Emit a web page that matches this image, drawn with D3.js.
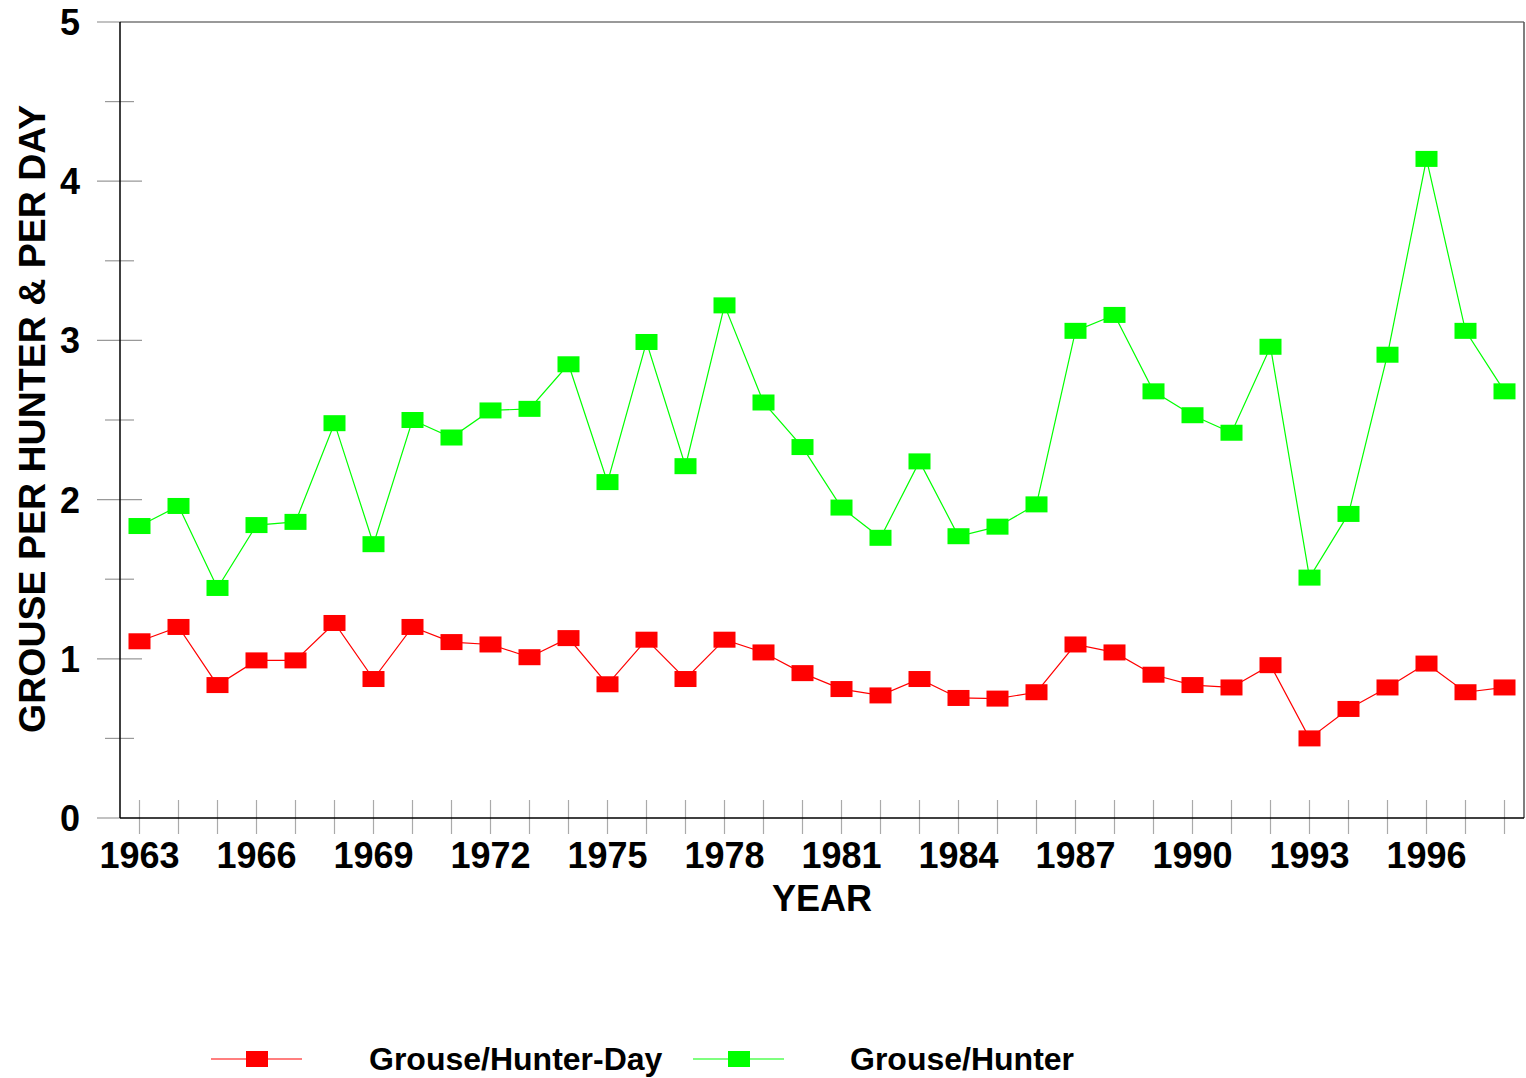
<!DOCTYPE html>
<html>
<head>
<meta charset="utf-8">
<script src="https://cdn.jsdelivr.net/npm/d3@7"></script>
<style>
  body { margin: 0; background: #fff; }
  text { font-family: "Liberation Sans", Arial, sans-serif; font-weight: bold; fill: #000; }
</style>
</head>
<body>
<div id="chart"></div>
<script>
// years and the two series
var years = [1963, 1964, 1965, 1966, 1967, 1968, 1969, 1970, 1971, 1972, 1973, 1974,
  1975, 1976, 1977, 1978, 1979, 1980, 1981, 1982, 1983, 1984, 1985, 1986,
  1987, 1988, 1989, 1990, 1991, 1992, 1993, 1994, 1995, 1996, 1997, 1998];

var perHunterDay = [1.11, 1.20, 0.835, 0.99, 0.99, 1.225, 0.873, 1.20, 1.105, 1.09, 1.01, 1.13,
  0.84, 1.12, 0.873, 1.12, 1.04, 0.91, 0.81, 0.77, 0.873, 0.754, 0.75, 0.79,
  1.09, 1.04, 0.90, 0.835, 0.82, 0.96, 0.50, 0.685, 0.82, 0.97, 0.79, 0.82];

var perHunter = [1.834, 1.96, 1.445, 1.84, 1.86, 2.48, 1.72, 2.50, 2.39, 2.56, 2.57, 2.85,
  2.11, 2.99, 2.21, 3.22, 2.61, 2.33, 1.95, 1.76, 2.24, 1.77, 1.83, 1.97,
  3.06, 3.16, 2.68, 2.53, 2.42, 2.96, 1.51, 1.91, 2.91, 4.14, 3.06, 2.68];

var xTickLabels = [1963, 1966, 1969, 1972, 1975, 1978, 1981, 1984, 1987, 1990, 1993, 1996];
var yTickLabels = [0, 1, 2, 3, 4, 5];
var yMinorTicks = [0.5, 1.5, 2.5, 3.5, 4.5];

var seriesNames = ["Grouse/Hunter-Day", "Grouse/Hunter"];
var seriesColors = ["#ff0000", "#00ff00"];

(function() {
  var W = 1526, H = 1078;
  var plotLeft = 120, plotRight = 1524, plotTop = 22, plotBottom = 818;

  var svg = d3.select("#chart").append("svg")
    .attr("width", W).attr("height", H);

  var x = d3.scaleLinear().domain([1962.5, 1998.5]).range([plotLeft, plotRight]);
  var y = d3.scaleLinear().domain([0, 5]).range([plotBottom, plotTop]);

  // frame
  svg.append("line").attr("x1", plotLeft).attr("x2", plotRight).attr("y1", plotTop).attr("y2", plotTop)
    .attr("stroke", "#777").attr("stroke-width", 1.5);
  svg.append("line").attr("x1", plotRight).attr("x2", plotRight).attr("y1", plotTop).attr("y2", plotBottom)
    .attr("stroke", "#555").attr("stroke-width", 1.5);

  // y ticks
  svg.selectAll(".ymaj").data(yTickLabels).enter().append("line")
    .attr("x1", 97).attr("x2", function(d) { return d == 5 || d == 0 ? plotLeft : 142; })
    .attr("y1", function(d) { return y(d); }).attr("y2", function(d) { return y(d); })
    .attr("stroke", "#999").attr("stroke-width", 1.2);
  svg.selectAll(".ymin").data(yMinorTicks).enter().append("line")
    .attr("x1", 105).attr("x2", 134)
    .attr("y1", function(d) { return y(d); }).attr("y2", function(d) { return y(d); })
    .attr("stroke", "#999").attr("stroke-width", 1.2);
  svg.selectAll(".ylab").data(yTickLabels).enter().append("text")
    .attr("x", 80).attr("y", function(d) { return y(d) + 13; })
    .attr("text-anchor", "end").style("font-size", "36px")
    .text(function(d) { return d; });

  // x ticks
  svg.selectAll(".xtick").data(years).enter().append("line")
    .attr("x1", function(d) { return x(d); }).attr("x2", function(d) { return x(d); })
    .attr("y1", 800).attr("y2", 834)
    .attr("stroke", "#aaa").attr("stroke-width", 1.2);
  svg.selectAll(".xlab").data(xTickLabels).enter().append("text")
    .attr("x", function(d) { return x(d); }).attr("y", 868)
    .attr("text-anchor", "middle").style("font-size", "36px")
    .text(function(d) { return d; });

  // axis lines
  svg.append("line").attr("x1", plotLeft).attr("x2", plotLeft).attr("y1", plotTop).attr("y2", plotBottom)
    .attr("stroke", "#000").attr("stroke-width", 1.5);
  svg.append("line").attr("x1", plotLeft).attr("x2", plotRight).attr("y1", plotBottom).attr("y2", plotBottom)
    .attr("stroke", "#000").attr("stroke-width", 1.5);

  // axis titles
  svg.append("text").attr("x", 822).attr("y", 911)
    .attr("text-anchor", "middle").style("font-size", "36px").text("YEAR");
  svg.append("text")
    .attr("transform", "translate(45,419) rotate(-90)")
    .attr("text-anchor", "middle").style("font-size", "37.5px")
    .text("GROUSE PER HUNTER & PER DAY");

  // series
  var line = d3.line()
    .x(function(d, i) { return x(years[i]); })
    .y(function(d) { return y(d); });

  [perHunterDay, perHunter].forEach(function(vals, k) {
    svg.append("path").datum(vals)
      .attr("d", line).attr("fill", "none")
      .attr("stroke", seriesColors[k]).attr("stroke-width", 1.2);
    svg.selectAll(".m" + k).data(vals).enter().append("rect")
      .attr("x", function(d, i) { return x(years[i]) - 11; })
      .attr("y", function(d) { return y(d) - 8; })
      .attr("width", 22).attr("height", 16)
      .attr("fill", seriesColors[k]);
  });

  // legend
  var legendX = [211, 693], legendTextX = [369, 850], legendY = 1059;
  seriesNames.forEach(function(name, k) {
    svg.append("line").attr("x1", legendX[k]).attr("x2", legendX[k] + 91)
      .attr("y1", legendY).attr("y2", legendY)
      .attr("stroke", seriesColors[k]).attr("stroke-width", 1.2);
    svg.append("rect").attr("x", legendX[k] + 35).attr("y", legendY - 8)
      .attr("width", 22).attr("height", 16).attr("fill", seriesColors[k]);
    svg.append("text").attr("x", legendTextX[k]).attr("y", legendY + 11)
      .style("font-size", "32px").text(name);
  });
})();
</script>
</body>
</html>
